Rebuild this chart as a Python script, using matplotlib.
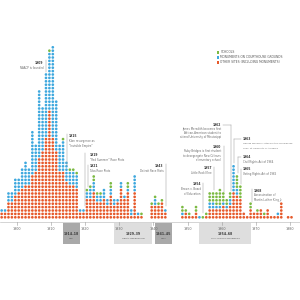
import matplotlib
matplotlib.use("Agg")
import matplotlib.pyplot as plt
from matplotlib.lines import Line2D
from matplotlib.patches import Rectangle

# ---------------- data ----------------
years = list(range(1895, 1981))
# counts per year (1895..1980)
other = [2, 2, 5, 5, 7, 8, 9, 10, 10, 13,       # 1895-1904
         14, 18, 20, 24, 32, 24, 20, 14, 14, 11,  # 1905-1914
         10, 10, 9, 2, 2, 6, 6, 8, 5, 5,          # 1915-1924
         6, 4, 7, 4, 5, 9, 6, 8, 1, 8,            # 1925-1934
         1, 1, 0, 0, 4, 4, 4, 5, 2, 0,            # 1935-1944
         0, 0, 0, 1, 2, 1, 1, 2, 0, 0,            # 1945-1954
         1, 3, 3, 3, 3, 4, 3, 4, 8, 7,            # 1955-1964
         6, 2, 1, 3, 2, 2, 3, 1, 3, 1,            # 1965-1974
         1, 1, 5, 0, 1, 1]                        # 1975-1980
courthouse = [1, 1, 3, 3, 5, 4, 6, 7, 5, 13,
              8, 20, 13, 19, 17, 27, 15, 8, 9, 6,
              4, 4, 4, 1, 1, 2, 3, 3, 2, 2,
              3, 2, 2, 2, 1, 2, 1, 1, 2, 5,
              1, 0, 0, 0, 0, 2, 0, 0, 1, 0,
              0, 0, 0, 1, 0, 0, 0, 0, 1, 0,
              0, 2, 2, 1, 1, 1, 1, 2, 8, 2,
              0, 0, 0, 0, 0, 0, 0, 0, 0, 0,
              0, 1, 0, 0, 0, 0]
schools = [0, 0, 0, 0, 0, 0, 0, 0, 0, 0,
           0, 0, 0, 0, 1, 0, 0, 0, 1, 0,
           1, 1, 1, 0, 0, 1, 1, 2, 1, 1,
           0, 0, 2, 0, 0, 0, 0, 2, 0, 0,
           0, 1, 0, 0, 1, 1, 1, 1, 0, 0,
           0, 0, 0, 2, 1, 1, 0, 2, 0, 1,
           1, 3, 3, 4, 5, 3, 2, 2, 0, 4,
           4, 0, 0, 2, 0, 1, 0, 1, 0, 0,
           0, 0, 0, 0, 0, 0]

categories = ["SCHOOLS", "MONUMENTS ON COURTHOUSE GROUNDS",
              "OTHER SITES (INCLUDING MONUMENTS)"]
tick_years = [1900, 1910, 1920, 1930, 1940, 1950, 1960, 1970, 1980]
periods = [(1914, 1918, "1914–18", "WWI"),
           (1929, 1939, "1929–39", "GREAT DEPRESSION"),
           (1941, 1945, "1941–45", "WWII"),
           (1954, 1968, "1954–68", "CIVIL RIGHTS MOVEMENT")]

RED = "#e65a2c"
BLUE = "#3ea8de"
GREEN = "#7cba43"
TXT = "#6a6a6a"
DARK = "#333333"

# ---------------- figure ----------------
W = H = 300
PXY = 3.41      # px per year
PXR = 3.4       # px per row
X0 = 1900 - 17 / PXY
Y0 = 217.3      # px of row 0

fig = plt.figure(figsize=(3, 3), dpi=100)
fig.patch.set_facecolor("white")
ax = fig.add_axes([0, 0, 1, 1])
ax.set_xlim(X0, X0 + W / PXY)
ax.set_ylim((Y0 - H) / PXR, Y0 / PXR)
ax.axis("off")

xs, ks, cs = [], [], []
for y, r, b, g in zip(years, other, courthouse, schools):
    stack = [RED] * r + [BLUE] * b + [GREEN] * g
    for k, c in enumerate(stack):
        xs.append(y + 0.5)
        ks.append(k)
        cs.append(c)
ax.scatter(xs, ks, s=3.7, c=cs, marker="o", linewidths=0)


def fx(x):
    return x / W


def fy(y):
    return 1 - y / H


def line(x1, y1, x2, y2, color="#9a9a9a", lw=0.35):
    fig.add_artist(Line2D([fx(x1), fx(x2)], [fy(y1), fy(y2)],
                          color=color, lw=lw, transform=fig.transFigure))


def px_of_year(v):
    return (v - X0) * PXY


# axis line and ticks
line(0, 222, 300, 222, color="#b5b5b5", lw=0.4)
for t in tick_years:
    xp = px_of_year(t)
    line(xp, 222, xp, 224.5, color="#999999", lw=0.4)
    fig.text(fx(xp), fy(228.5), str(t), ha="center", va="center",
             fontsize=2.4, color=TXT)

# period boxes
for (a, b, lab, sub) in periods:
    x1 = px_of_year(a - 0.5)
    x2 = px_of_year(b + 0.5)
    dark = (b - a) <= 5
    fc = "#a9a9a9" if dark else "#dedede"
    fig.add_artist(Rectangle((fx(x1), fy(244)), fx(x2 - x1), (244 - 222.5) / H,
                             transform=fig.transFigure, facecolor=fc,
                             edgecolor="none", zorder=0))
    xm = (x1 + x2) / 2
    fig.text(fx(xm), fy(234), lab, ha="center", va="center", fontsize=2.3,
             fontweight="bold", color="#3a3a3a")
    fig.text(fx(xm), fy(238.6), sub, ha="center", va="center", fontsize=1.6,
             color="#555555")

# legend
for i, (cat, col) in enumerate(zip(categories, [GREEN, BLUE, RED])):
    yy = 52.3 + 5 * i
    fig.add_artist(Rectangle((fx(216.5), fy(yy + 1.3)), 2.6 / W, 2.6 / H,
                             transform=fig.transFigure, facecolor=col,
                             edgecolor="none"))
    fig.text(fx(220.5), fy(yy), cat, ha="left", va="center", fontsize=2.2,
             color="#555555")


def note(x, y, year, lines_, ha="left", gap=4.4, fs=1.9):
    fig.text(fx(x), fy(y), year, ha=ha, va="center", fontsize=2.2,
             fontweight="bold", color=DARK)
    for j, t in enumerate(lines_):
        fig.text(fx(x), fy(y + gap * (j + 1)), t, ha=ha, va="center",
                 fontsize=fs, color=TXT)


note(43.5, 63, "1909", ["NAACP is founded"], ha="right", gap=5)
line(45.5, 60, 45.5, 72)

note(69, 136, "1915", ["Klan resurgence as", "“Invisible Empire”"], ha="left", gap=5)
line(67, 134, 67, 166)

note(89.5, 155, "1919", ["“Red Summer” Race Riots"], ha="left", gap=5)
line(84.5, 153, 84.5, 206)

note(89.5, 166, "1921", ["Tulsa Race Riots"], ha="left", gap=5)
line(88, 164.5, 88, 187)

note(163.5, 166, "1943", ["Detroit Race Riots"], ha="right", gap=5.5)
line(165.8, 164, 165.8, 206)

note(221, 125, "1962", ["James Meredith becomes first",
                        "African-American student to",
                        "attend University of Mississippi"], ha="right", gap=4)
line(223, 125, 230.5, 125)
line(230.5, 125, 230.5, 191)

note(221, 147, "1960", ["Ruby Bridges is first student",
                        "to desegregate New Orleans",
                        "elementary school"], ha="right", gap=4.3)
line(223.5, 146, 223.5, 192)

note(243, 139, "1963", ["George Wallace’s “Stand in the schoolhouse",
                        "door” at University of Alabama"], ha="left", gap=4.5,
     fs=1.65)
line(241, 139, 234, 139)
line(234, 139, 234, 163)

note(243, 157, "1964", ["Civil Rights Act of 1964"], ha="left", gap=5)
line(241, 157, 237.5, 157)
line(237.5, 157, 237.5, 173)

note(243, 169, "1965", ["Voting Rights Act of 1965"], ha="left", gap=5)
line(241, 169, 241, 184)

note(254, 191, "1968", ["Assassination of", "Martin Luther King Jr."], ha="left", gap=4.5)
line(251.5, 189, 251.5, 202)

note(212, 168, "1957", ["Little Rock Nine"], ha="right", gap=5.5)
line(213.7, 167, 213.7, 190)

note(201, 184, "1954", ["Brown v. Board", "of Education"], ha="right", gap=5)
line(203, 183, 203, 213)

fig.savefig("out.png", dpi=100, facecolor="white")
